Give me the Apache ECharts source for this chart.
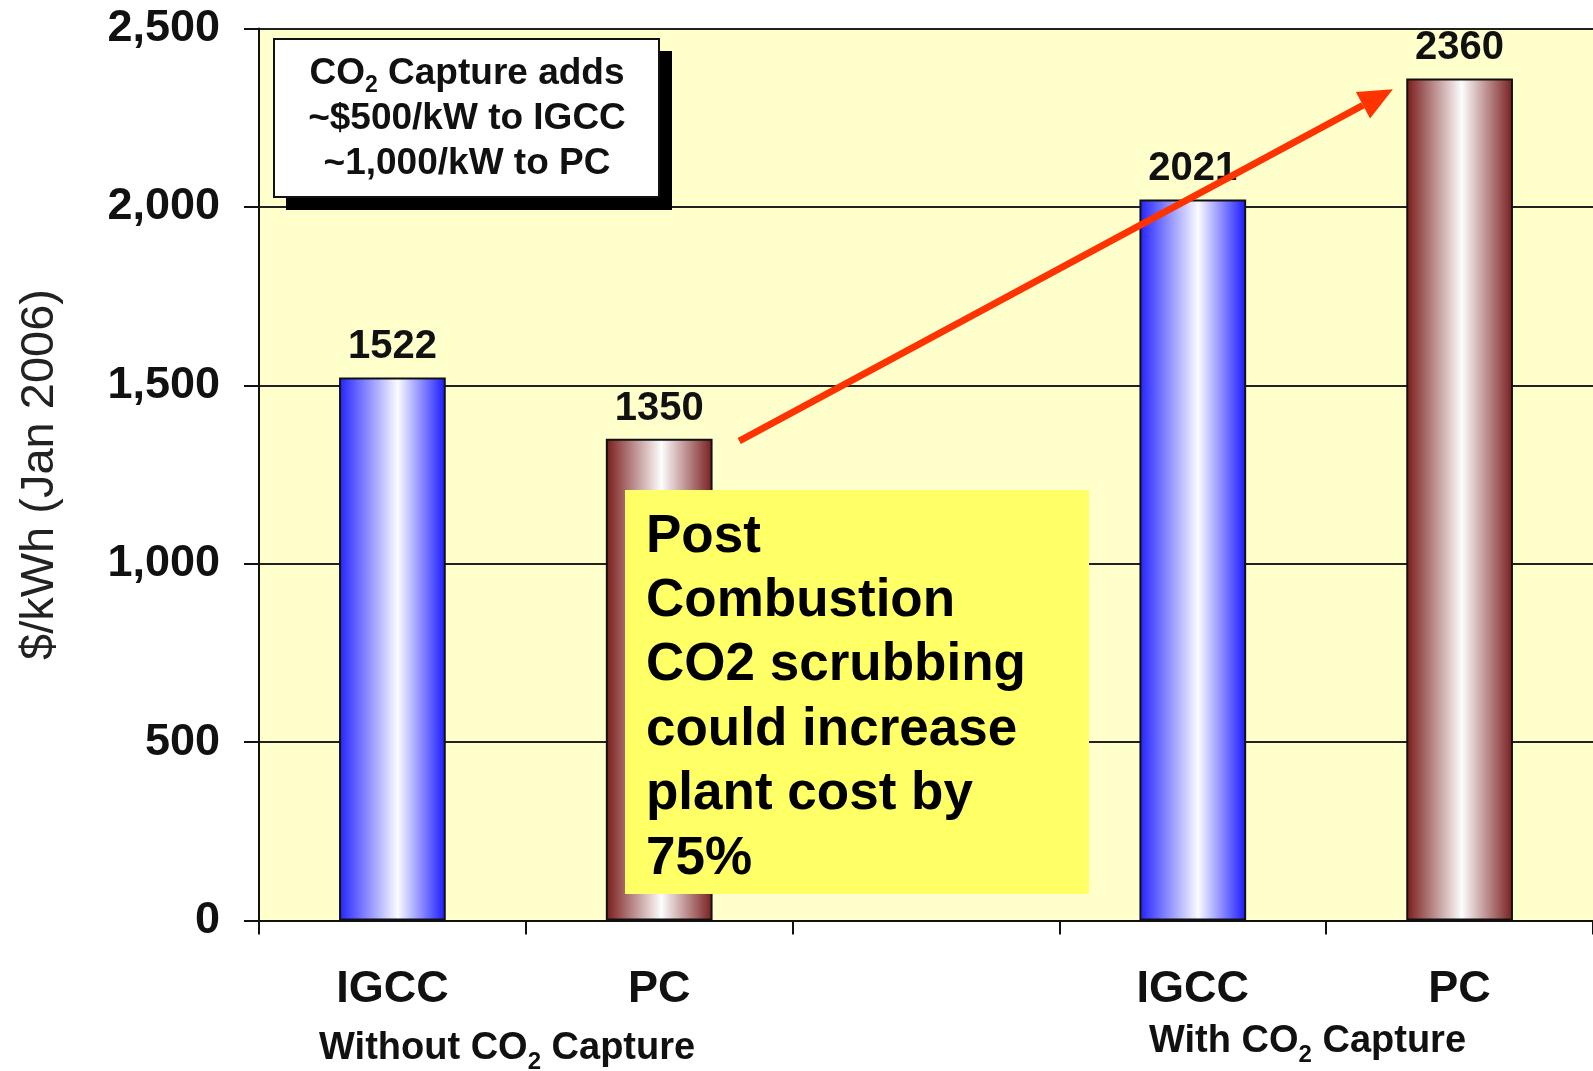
<!DOCTYPE html>
<html>
<head>
<meta charset="utf-8">
<script src="https://cdn.jsdelivr.net/npm/echarts@6/dist/echarts.min.js"></script>
<style>
html, body { margin: 0; padding: 0; background: #fff; }
#main { width: 1593px; height: 1071px; }
</style>
</head>
<body>
<div id="main"></div>
<script>
// plant capital cost, $/kW (Jan 2006)
const categories = ['IGCC', 'PC', '', 'IGCC', 'PC']
const costs = [1522, 1350, null, 2021, 2360]
const plantType = ['igcc', 'pc', null, 'igcc', 'pc']
const yTicks = [0, 500, 1000, 1500, 2000, 2500]
const groupLabels = ['Without CO{sub|2} Capture', 'With CO{sub|2} Capture']
const groupPos = [0.43, 3.43] // category index under which each group label sits
const boxLines = ['CO{sub|2} Capture adds', '~$500/kW to IGCC', '~1,000/kW to PC']
const calloutLines = ['Post', 'Combustion', 'CO2 scrubbing', 'could increase', 'plant cost by', '75%']
const arrowFrom = [1.3, 1344]
const arrowTo = [3.75, 2330]

const FONT = '"Liberation Sans", Arial, sans-serif'
const INK = '#111'

const fills = {
  igcc: new echarts.graphic.LinearGradient(0, 0, 1, 0, [
    {offset: 0, color: '#2222ff'},
    {offset: 0.55, color: '#fbfbff'},
    {offset: 1, color: '#1818ff'}
  ]),
  pc: new echarts.graphic.LinearGradient(0, 0, 1, 0, [
    {offset: 0, color: '#781a1a'},
    {offset: 0.52, color: '#fdfdfd'},
    {offset: 1, color: '#781d1d'}
  ])
}

const chart = echarts.init(document.getElementById('main'))

const option = {
  backgroundColor: '#ffffff',
  animation: false,
  textStyle: {fontFamily: FONT},
  grid: {left: 259, right: 0, top: 28.5, bottom: 150.5, backgroundColor: '#ffffcc', show: true, borderWidth: 0},
  xAxis: {
    type: 'category',
    data: categories,
    axisLine: {lineStyle: {color: '#111', width: 2}},
    axisTick: {show: true, length: 14, lineStyle: {color: '#111', width: 2}},
    axisLabel: {fontSize: 45, fontWeight: 'bold', color: INK, margin: 47}
  },
  yAxis: {
    type: 'value',
    min: yTicks[0],
    max: yTicks[yTicks.length - 1],
    interval: yTicks[1] - yTicks[0],
    name: '$/kWh (Jan 2006)',
    nameLocation: 'middle',
    nameRotate: 90,
    nameGap: 195,
    nameTextStyle: {fontSize: 47, color: '#222'},
    axisLine: {show: true, lineStyle: {color: '#111', width: 2}},
    axisTick: {show: true, length: 15, lineStyle: {color: '#111', width: 2}},
    axisLabel: {
      fontSize: 45, fontWeight: 'bold', color: INK, margin: 39,
      formatter: v => v.toLocaleString('en-US')
    },
    splitLine: {lineStyle: {color: '#222', width: 2}}
  },
  series: [{
    type: 'bar',
    barWidth: '40%',
    data: costs.map((v, i) => v == null ? null : {
      value: v,
      itemStyle: {color: fills[plantType[i]], borderColor: '#111', borderWidth: 2}
    }),
    label: {
      show: true,
      position: 'top',
      distance: 10,
      fontSize: 40,
      fontWeight: 'bold',
      color: INK
    },
    z: 3
  }]
}

chart.setOption(option)

// pixel position of a (possibly fractional) category index and value
function toPx (pt) {
  let i0 = Math.floor(pt[0])
  let a = chart.convertToPixel({xAxisIndex: 0, yAxisIndex: 0}, [i0, pt[1]])
  let b = chart.convertToPixel({xAxisIndex: 0, yAxisIndex: 0}, [i0 + 1, pt[1]])
  return [a[0] + (b[0] - a[0]) * (pt[0] - i0), a[1]]
}

let graphics = []

// group labels under the axis
groupLabels.forEach((t, k) => {
  let p = toPx([groupPos[k], 0])
  graphics.push({
    type: 'text',
    x: p[0],
    y: k === 0 ? 1049 : 1042,
    z: 10,
    style: {
      text: t,
      align: 'center',
      verticalAlign: 'middle',
      font: 'bold 38px ' + FONT,
      fill: INK,
      rich: {sub: {fontSize: 24, fontWeight: 'bold', fontFamily: FONT, padding: [26, 0, 0, 0], fill: INK}}
    }
  })
})

// arrow
let s = toPx(arrowFrom)
let e = toPx(arrowTo)
let ang = Math.atan2(e[1] - s[1], e[0] - s[0])
let headLen = 34
let headW = 15
let bx = e[0] - headLen * Math.cos(ang)
let by = e[1] - headLen * Math.sin(ang)
graphics.push({
  type: 'line', z: 20,
  shape: {x1: s[0], y1: s[1], x2: bx, y2: by},
  style: {stroke: '#ff3300', lineWidth: 7}
})
graphics.push({
  type: 'polygon', z: 20,
  shape: {points: [
    e,
    [bx + headW * Math.sin(ang), by - headW * Math.cos(ang)],
    [bx - headW * Math.sin(ang), by + headW * Math.cos(ang)]
  ]},
  style: {fill: '#ff3300'}
})

// note box top-left
graphics.push({type: 'rect', z: 20, shape: {x: 286, y: 51, width: 386, height: 159}, style: {fill: '#000'}})
graphics.push({type: 'rect', z: 21, shape: {x: 274, y: 39, width: 385, height: 158}, style: {fill: '#fff', stroke: '#111', lineWidth: 2}})
boxLines.forEach((t, k) => {
  graphics.push({
    type: 'text', z: 22,
    x: 467, y: 74 + k * 45,
    style: {
      text: t, align: 'center', verticalAlign: 'middle',
      font: 'bold 37px ' + FONT, fill: INK,
      rich: {sub: {fontSize: 23, fontWeight: 'bold', fontFamily: FONT, padding: [24, 0, 0, 0], fill: INK}}
    }
  })
})

// yellow callout
graphics.push({type: 'rect', z: 20, shape: {x: 625, y: 490, width: 464, height: 404}, style: {fill: '#ffff66'}})
calloutLines.forEach((t, k) => {
  graphics.push({
    type: 'text', z: 21,
    x: 646, y: 537 + k * 64.4,
    style: {text: t, align: 'left', verticalAlign: 'middle', font: 'bold 53px ' + FONT, fill: '#000'}
  })
})

chart.setOption({graphic: graphics})
window.addEventListener('resize', function () { chart.resize() })
</script>
</body>
</html>
